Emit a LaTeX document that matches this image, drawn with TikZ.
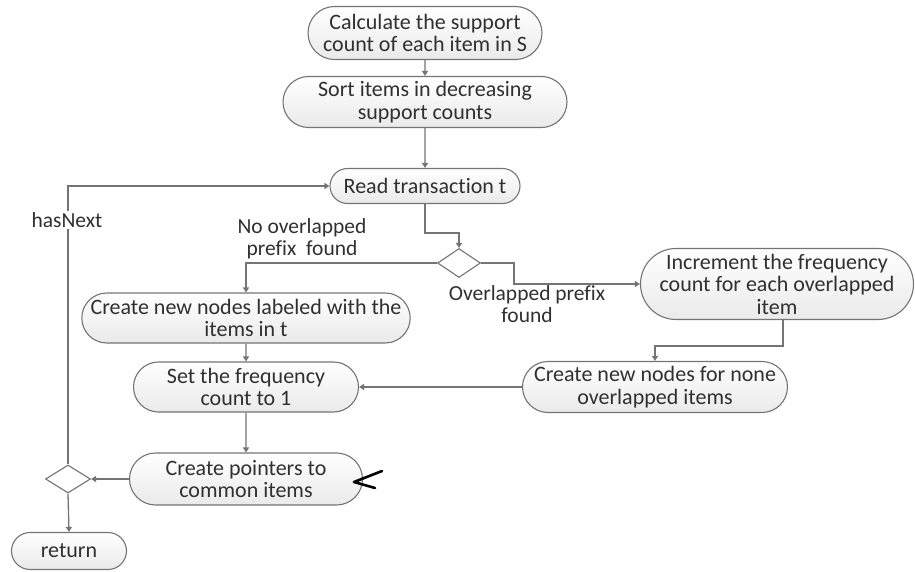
\documentclass[tikz,border=0pt]{standalone}
\usepackage{fontspec}
\setmainfont{Carlito}[Ligatures=NoCommon]
\usetikzlibrary{shapes.misc,shapes.geometric,arrows.meta,shadings}
\definecolor{edgegray}{HTML}{747474}
\definecolor{txtgray}{HTML}{303030}
\definecolor{boxfill}{HTML}{EAEAEA}
\tikzset{
  flowbox/.style={rounded rectangle, draw=edgegray, line width=1.1pt,
    top color=white, bottom color=boxfill, text=txtgray, align=center,
    inner sep=0pt, font=\fontsize{22}{22.5}\selectfont},
  choice/.style={diamond, draw=edgegray, line width=1.1pt, fill=white,
    inner sep=0pt},
  flow/.style={draw=edgegray, line width=1.3pt,
    -{Triangle[width=6pt,length=5pt]}},
  flowlabel/.style={text=txtgray, align=center, fill=white, inner sep=1pt,
    font=\fontsize{21.5}{22}\selectfont},
}
\begin{document}
\begin{tikzpicture}[x=1pt,y=-1pt]
  \useasboundingbox (0,0) rectangle (915,572);

  % activity nodes
  \node[flowbox, minimum width=234pt, minimum height=53pt] (calc) at (425,33)
    {Calculate the support\\count of each item in S};
  \node[flowbox, minimum width=284pt, minimum height=51pt] (sort) at (425,102)
    {Sort items in decreasing\\support counts};
  \node[flowbox, minimum width=190pt, minimum height=35pt] (read) at (425,186)
    {Read transaction t};
  \node[choice, minimum width=43pt, minimum height=29pt] (prefix) at (459,263) {};
  \node[flowbox, minimum width=327pt, minimum height=50pt] (newlab) at (246,318)
    {Create new nodes labeled with the\\items in t};
  \node[flowbox, minimum width=273pt, minimum height=71pt] (incr) at (777,284)
    {Increment the frequency\\count for each overlapped\\item};
  \node[flowbox, minimum width=265pt, minimum height=51pt] (newnone) at (655,387)
    {Create new nodes for none\\overlapped items};
  \node[flowbox, minimum width=225pt, minimum height=50pt] (setone) at (246,387)
    {Set the frequency\\count to 1};
  \node[flowbox, minimum width=233pt, minimum height=52pt] (ptrs) at (246,479)
    {Create pointers to\\common items};
  \node[choice, minimum width=45pt, minimum height=28pt] (more) at (68,479) {};
  \node[flowbox, minimum width=115pt, minimum height=37pt] (ret) at (69,551)
    {return};

  % connectors
  \draw[flow] (calc) -- (sort);
  \draw[flow] (sort) -- (read);
  \draw[flow] (read.south) -- ++(0,29) -| (prefix.north);
  \draw[flow] (prefix.west) -| (newlab.north);
  \draw[flow] (prefix.east) -- ++(33,0) |- (incr.west);
  \draw[flow] ([xshift=6pt]incr.south) -- ++(0,26) -| (newnone.north);
  \draw[flow] (newnone.west) -- (setone.east);
  \draw[flow] (newlab) -- (setone);
  \draw[flow] (setone) -- (ptrs);
  \draw[flow] (ptrs.west) -- (more.east);
  \draw[flow] (more.south) -- (ret.north);
  \draw[flow] (more.north) |- (read.west);

  % branch labels
  \node[flowlabel] (lnext) at (67,220) {hasNext};
  \node[flowlabel, fill=none] (lno) at (302,239) {No overlapped\\prefix\ \ found};
  \node[flowlabel, fill=none] (lyes) at (527,304) {Overlapped prefix\\found};

  % pen mark beside the pointer step
  \draw[black, line width=2.6pt, line cap=round, line join=round]
    (382,471) -- (354,482) -- (375,488);
\end{tikzpicture}
\end{document}
